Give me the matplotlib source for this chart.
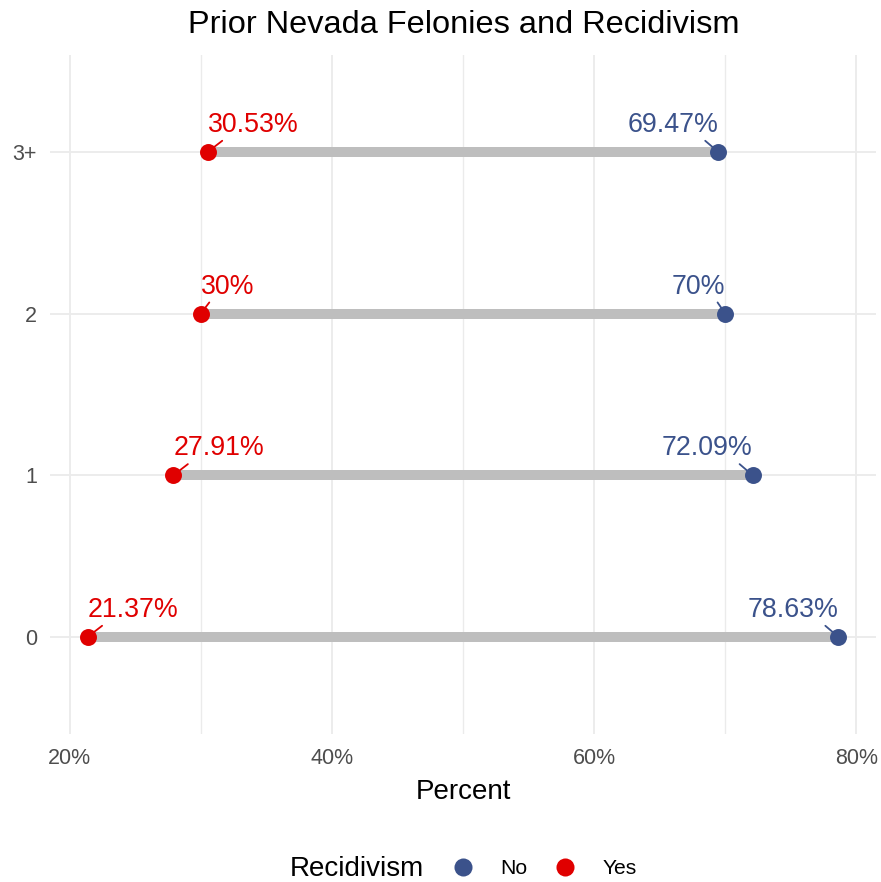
import matplotlib.pyplot as plt
from matplotlib.lines import Line2D
from matplotlib.ticker import FuncFormatter, MultipleLocator

plt.rcParams['font.family'] = ['Liberation Sans', 'DejaVu Sans']

# data
categories = ['0', '1', '2', '3+']
pct_no = [78.63, 72.09, 70.0, 69.47]
pct_yes = [21.37, 27.91, 30.0, 30.53]
labels_no = ['78.63%', '72.09%', '70%', '69.47%']
labels_yes = ['21.37%', '27.91%', '30%', '30.53%']

col_no = '#3B528B'
col_yes = '#E00000'
grid_col = '#EBEBEB'

fig = plt.figure(figsize=(8.81, 8.82), dpi=100)
ax = fig.add_axes([50 / 881, 1 - 734 / 882, 826 / 881, 679 / 882])

ypos = list(range(len(categories)))

# dumbbell segments
for y, a, b in zip(ypos, pct_yes, pct_no):
    ax.plot([a, b], [y, y], color='#BEBEBE', lw=7.2, solid_capstyle='butt', zorder=2)

ax.scatter(pct_no, ypos, s=12.2 ** 2, color=col_no, zorder=3, linewidths=0)
ax.scatter(pct_yes, ypos, s=12.2 ** 2, color=col_yes, zorder=3, linewidths=0)

# labels with connector segments (segments run under the points)
for y, v, t in zip(ypos, pct_yes, labels_yes):
    ax.annotate(t, xy=(v, y), xytext=(0, 20), textcoords='offset pixels',
                ha='left', va='baseline', fontsize=19.3, color=col_yes,
                arrowprops=dict(arrowstyle='-', color=col_yes, lw=1.3,
                                relpos=(0.2, 0), shrinkA=0, shrinkB=0),
                zorder=2.5)
for y, v, t in zip(ypos, pct_no, labels_no):
    ax.annotate(t, xy=(v, y), xytext=(0, 20), textcoords='offset pixels',
                ha='right', va='baseline', fontsize=19.3, color=col_no,
                arrowprops=dict(arrowstyle='-', color=col_no, lw=1.3,
                                relpos=(0.82, 0), shrinkA=0, shrinkB=0),
                zorder=2.5)

lo, hi = min(pct_yes), max(pct_no)
pad = (hi - lo) * 0.05
ax.set_xlim(lo - pad, hi + pad)
ax.set_ylim(-0.6, len(categories) - 1 + 0.6)

ax.xaxis.set_major_locator(MultipleLocator(20))
ax.xaxis.set_minor_locator(MultipleLocator(10))
ax.xaxis.set_major_formatter(FuncFormatter(lambda v, p: f'{v:.0f}%'))
ax.set_yticks(ypos)
ax.set_yticklabels(categories)

ax.grid(which='major', color=grid_col, lw=1.3, zorder=0)
ax.grid(which='minor', axis='x', color=grid_col, lw=1.0, zorder=0)
ax.set_axisbelow(True)
for s in ax.spines.values():
    s.set_visible(False)
ax.tick_params(which='both', length=0)
ax.tick_params(axis='x', labelsize=15.5, labelcolor='#4D4D4D', pad=10)
ax.tick_params(axis='y', labelsize=15.5, labelcolor='#4D4D4D', pad=9.5)

ax.set_xlabel('Percent', fontsize=20, labelpad=7)
fig.text(463.5 / 881, 1 - 33 / 882, 'Prior Nevada Felonies and Recidivism',
         fontsize=23.4, ha='center', va='baseline')

# legend at bottom
fig.text(290 / 881, 1 - 869 / 882, 'Recidivism', fontsize=20, ha='left', va='center')
handles = [Line2D([], [], marker='o', ls='', color=col_no, markersize=13, markeredgewidth=0),
           Line2D([], [], marker='o', ls='', color=col_yes, markersize=13, markeredgewidth=0)]
fig.legend(handles, ['No', 'Yes'], loc='center left', bbox_to_anchor=(442 / 881, 1 - 869 / 882),
           ncol=2, frameon=False, fontsize=15.2, handletextpad=0.75, columnspacing=0.8,
           borderaxespad=0, borderpad=0)

fig.savefig('out.png', dpi=100)
